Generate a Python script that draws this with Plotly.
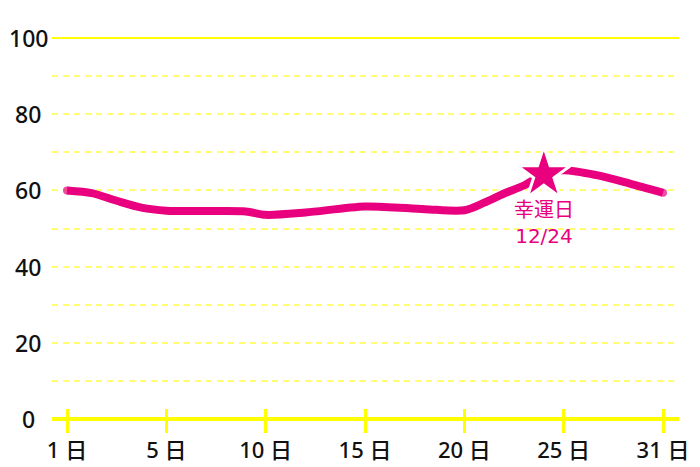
# -*- coding: utf-8 -*-
"""運勢グラフ (1ヶ月) — Plotly 版"""
import numpy as np
import plotly.graph_objects as go

# ---- データ ----
DAYS = [1, 2, 3, 4, 5, 7, 9, 10, 12, 15, 18, 20, 21, 22, 23, 24, 25, 27, 29, 31]
VALUES = [60.0, 59.3, 57.3, 55.5, 54.7, 54.6, 54.5, 53.6, 54.2, 55.8, 55.1, 54.8,
          56.8, 59.2, 61.3, 64.2, 65.3, 64.0, 61.8, 59.4]
TICK_DAYS = [1, 5, 10, 15, 20, 25, 31]
TICK_TEXT = ["1 日", "5 日", "10 日", "15 日", "20 日", "25 日", "31 日"]
Y_TICKS = [0, 20, 40, 60, 80, 100]
LUCKY_DAY = 24
LUCKY_LABEL = "幸運日<br>12/24"

PINK = "#e8007f"
YELLOW = "#ffff00"
GRID_YELLOW = "#ffff70"
FONT = "Noto Sans, Noto Sans CJK JP"
LABEL_FONT = "DejaVu Sans, Noto Sans CJK JP"

# 目盛りは等間隔なので、日付 → 目盛り位置へ区分線形で変換
tick_pos = list(range(len(TICK_DAYS)))
x_pos = np.interp(DAYS, TICK_DAYS, tick_pos)
lucky_x = float(np.interp(LUCKY_DAY, TICK_DAYS, tick_pos))
lucky_y = VALUES[DAYS.index(LUCKY_DAY)]

# 線端を丸く見せるための端点マーカー
end_sizes = [8] + [0] * (len(DAYS) - 2) + [8]

fig = go.Figure()
fig.add_trace(go.Scatter(
    x=x_pos, y=VALUES,
    mode="lines+markers",
    line=dict(color=PINK, width=8, shape="spline", smoothing=0.8),
    marker=dict(size=end_sizes, color=PINK, line=dict(width=0)),
    hoverinfo="skip",
    showlegend=False,
))
fig.add_trace(go.Scatter(
    x=[lucky_x], y=[lucky_y],
    mode="markers",
    marker=dict(symbol="star", size=40, color=PINK, line=dict(color="white", width=3)),
    hoverinfo="skip",
    showlegend=False,
))
fig.add_annotation(
    x=lucky_x, y=lucky_y, text=LUCKY_LABEL, showarrow=False,
    yanchor="top", yshift=-22,
    font=dict(family=LABEL_FONT, size=20, color=PINK),
)

# 100 のライン (実線)
fig.add_hline(y=max(Y_TICKS), line=dict(color=YELLOW, width=2), layer="above")

# y 軸ラベル (中央揃え)
for v in Y_TICKS:
    fig.add_annotation(
        x=-0.038, xref="paper", y=v, yref="y", text=str(v), showarrow=False,
        xanchor="center", yanchor="middle",
        font=dict(family=FONT, size=23, color="#111111", weight=500),
    )

# ページの body 余白 (8px) を差し引いたサイズ
fig.update_layout(
    width=692, height=459,
    margin=dict(l=44, r=21, t=28, b=34, autoexpand=False),
    paper_bgcolor="white",
    plot_bgcolor="white",
    font=dict(family=FONT, size=22, color="#111111"),
    xaxis=dict(
        range=[-0.151, 6.161],
        tickvals=tick_pos, ticktext=TICK_TEXT,
        ticks="inside", ticklen=24, tickwidth=3, tickcolor=YELLOW,
        ticklabelstandoff=2,
        showgrid=False, zeroline=False, showline=False,
        tickfont=dict(family=FONT, size=22, color="#111111", weight=500),
        automargin=False,
        fixedrange=True,
    ),
    yaxis=dict(
        range=[-3.6, 100.5],
        dtick=10, tick0=0,
        showticklabels=False,
        showgrid=True, gridcolor=GRID_YELLOW, gridwidth=2, griddash="6px,5px",
        zeroline=True, zerolinecolor=YELLOW, zerolinewidth=4,
        showline=False,
        automargin=False,
        fixedrange=True,
    ),
)

fig.write_html("out.html")
